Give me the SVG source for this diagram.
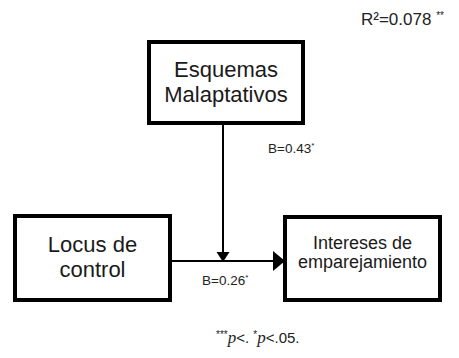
<svg xmlns="http://www.w3.org/2000/svg" width="459" height="358" viewBox="0 0 459 358">
  <defs>
    <style>
      .box { fill: #ffffff; stroke: #000000; stroke-width: 4; }
      .label { font-family: "Liberation Sans", Arial, Helvetica, sans-serif; fill: #1a1a1a; text-anchor: middle; }
      .small { font-family: "Liberation Sans", Arial, Helvetica, sans-serif; fill: #222222; font-size: 13.5px; }
      .sup { font-size: 8px; }
      .edge { stroke: #000000; stroke-width: 2; fill: none; }
      .head { fill: #000000; }
      .pval { font-family: "Liberation Serif", serif; font-style: italic; font-size: 17px; }
    </style>
  </defs>
  <rect width="459" height="358" fill="#ffffff"/>

  <!-- model fit -->
  <text class="small" x="361" y="25" style="font-size:17px">R²=0.078 <tspan dy="-6" style="font-size:10px">**</tspan></text>

  <g id="connectors">
    <!-- moderator path into the main path -->
    <line class="edge" x1="223" y1="125" x2="223" y2="253"/>
    <path class="head" d="M216.5,252 L229.5,252 L223,262 Z"/>
    <!-- main path -->
    <line class="edge" x1="172" y1="261" x2="276" y2="261"/>
    <path class="head" d="M273,251 L285,261 L273,271 Z"/>
    <text class="small" x="268" y="153">B=0.43<tspan class="sup" dy="-5">*</tspan></text>
    <text class="small" x="202" y="285">B=0.26<tspan class="sup" dy="-5">*</tspan></text>
  </g>

  <g id="node-esquemas">
    <rect class="box" x="149" y="42" width="154" height="81"/>
    <text class="label" x="226" y="77" font-size="22">Esquemas</text>
    <text class="label" x="226" y="102" font-size="22">Malaptativos</text>
  </g>

  <g id="node-locus">
    <rect class="box" x="15" y="216" width="155" height="84"/>
    <text class="label" x="92.5" y="252" font-size="22">Locus de</text>
    <text class="label" x="92.5" y="277" font-size="22">control</text>
  </g>

  <g id="node-intereses">
    <rect class="box" x="285" y="217" width="155" height="83"/>
    <text class="label" x="362.5" y="249" font-size="18">Intereses de</text>
    <text class="label" x="362.5" y="268" font-size="18">emparejamiento</text>
  </g>

  <!-- significance note -->
  <text class="small" x="216" y="343" style="font-size:15px"><tspan dy="-5" style="font-size:10px">***</tspan><tspan class="pval" dy="5">p</tspan>&lt;. <tspan dy="-5" style="font-size:10px">*</tspan><tspan class="pval" dy="5">p</tspan>&lt;.05.</text>
</svg>
